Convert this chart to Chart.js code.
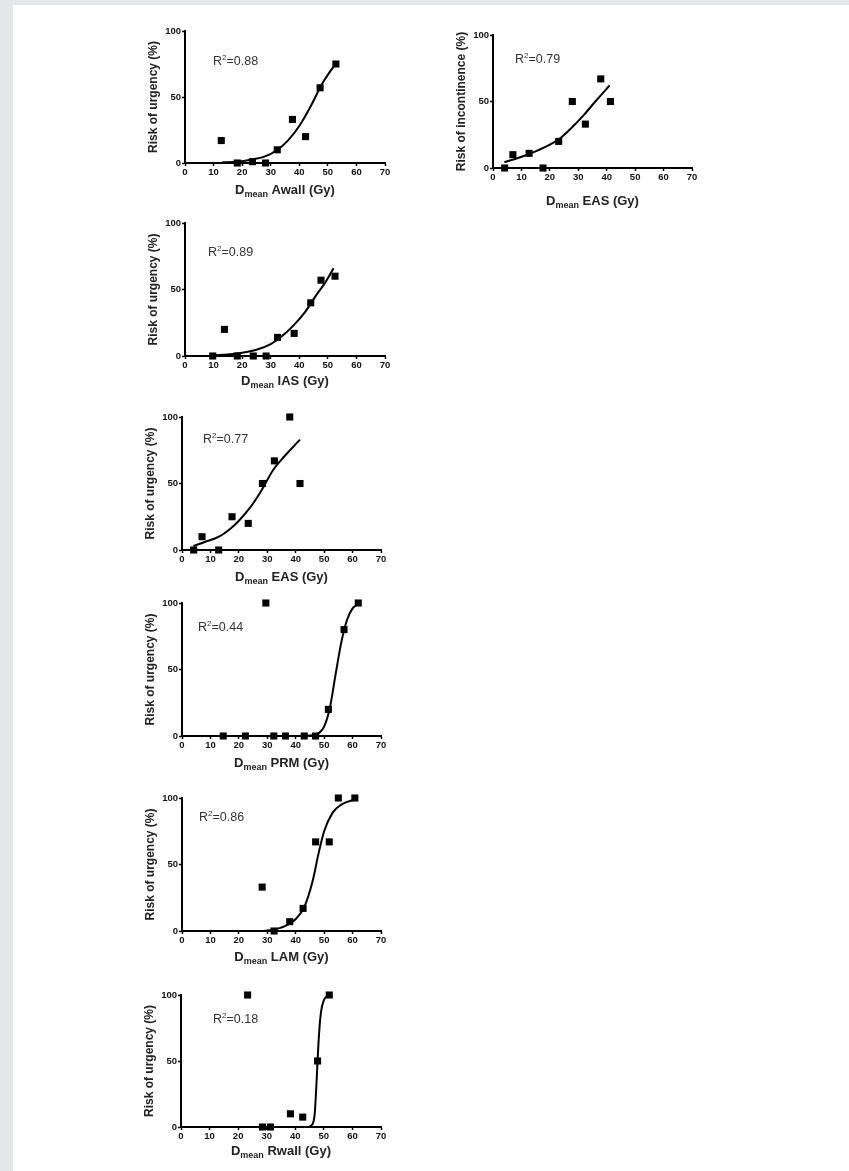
<!DOCTYPE html>
<html>
<head>
  <meta charset="UTF-8">
  <title>Risk vs Dmean</title>
  <script src="https://cdn.jsdelivr.net/npm/chart.js"></script>
  <style>
    body {
      margin: 0;
      background: #e6e7e8;
      width: 849px;
      height: 1171px;
      overflow: hidden;
    }
    #panel {
      position: absolute;
      left: 13px;
      top: 5px;
      width: 836px;
      height: 1166px;
      background: #fff;
    }
    canvas {
      position: absolute;
    }
  </style>
</head>
<body>
  <div id="panel"></div>

  <script>
    // Axis ticks shared by all panels
    const xTicks = [0, 10, 20, 30, 40, 50, 60, 70];
    const yTicks = [0, 50, 100];

    // Awall - urgency
    const awallDose = [12.7, 18.3, 23.6, 28.2, 32.3, 37.6, 42.2, 47.3, 52.8];
    const awallRisk = [17, 0, 1, 0, 10, 33, 20, 57, 75];
    const awallFitDose = [13, 18, 23, 28, 32, 36, 40, 44, 48, 51, 53];
    const awallFitRisk = [0.5, 1, 2.5, 5, 9.5, 17, 28, 43, 60, 70, 76];

    // EAS - incontinence
    const easIncDose = [4.1, 7.0, 12.7, 17.6, 23.1, 27.9, 32.5, 37.9, 41.3];
    const easIncRisk = [0, 10, 11, 0, 20, 50, 33, 67, 50];
    const easIncFitDose = [4, 8, 12, 16, 20, 24, 28, 32, 36, 41];
    const easIncFitRisk = [4.5, 7, 10, 13.5, 17.5, 23, 31, 40, 50, 62];

    // IAS - urgency
    const iasDose = [9.7, 13.8, 18.3, 23.9, 28.4, 32.4, 38.2, 44, 47.6, 52.5];
    const iasRisk = [0, 20, 0, 0, 0, 14, 17, 40, 57, 60];
    const iasFitDose = [10, 15, 20, 25, 30, 34, 38, 42, 46, 49, 52];
    const iasFitRisk = [0.6, 1.2, 2.4, 4.7, 9, 15, 23, 33, 46, 55, 66];

    // EAS - urgency
    const easDose = [4.1, 7.05, 12.9, 17.6, 23.3, 28.3, 32.5, 37.9, 41.5];
    const easRisk = [0, 10, 0, 25, 20, 50, 67, 100, 50];
    const easFitDose = [4, 8, 13, 17, 20, 24, 28, 32, 35, 38, 41.5];
    const easFitRisk = [3, 6, 10, 16, 22, 32, 45, 60, 68, 75, 83];

    // PRM - urgency
    const prmDose = [14.5, 22.3, 29.5, 32.3, 36.4, 43, 47, 51.5, 57, 62];
    const prmRisk = [0, 0, 100, 0, 0, 0, 0, 20, 80, 100];
    const prmFitDose = [43, 46, 48, 50, 52, 54, 56, 58, 60, 62];
    const prmFitRisk = [0, 0.5, 2, 7, 21, 46, 70, 87, 96, 99];

    // LAM - urgency
    const lamDose = [28.2, 32.4, 37.9, 42.6, 47, 51.8, 55, 60.8];
    const lamRisk = [33, 0, 7, 17, 67, 67, 100, 100];
    const lamFitDose = [28, 32, 36, 40, 43, 46, 48, 50, 53, 56, 61];
    const lamFitRisk = [0, 1, 3.5, 9, 18, 38, 58, 75, 89, 95, 99];

    // Rwall - urgency
    const rwallDose = [23.3, 28.5, 31.3, 38.3, 42.6, 47.8, 51.9];
    const rwallRisk = [100, 0, 0, 10, 7.5, 50, 100];
    const rwallFitDose = [44.5, 46, 46.8, 47.3, 47.8, 48.3, 49, 50, 51, 52];
    const rwallFitRisk = [0, 2, 10, 28, 50, 70, 87, 96, 99, 100];

    const structures = ["Awall", "EAS", "IAS", "EAS", "PRM", "LAM", "Rwall"];
    const yTitles = ["Risk of urgency (%)", "Risk of incontinence (%)", "Risk of urgency (%)",
      "Risk of urgency (%)", "Risk of urgency (%)", "Risk of urgency (%)", "Risk of urgency (%)"];
    const rSquared = ["0.88", "0.79", "0.89", "0.77", "0.44", "0.86", "0.18"];

    const series = [
      [awallDose, awallRisk, awallFitDose, awallFitRisk],
      [easIncDose, easIncRisk, easIncFitDose, easIncFitRisk],
      [iasDose, iasRisk, iasFitDose, iasFitRisk],
      [easDose, easRisk, easFitDose, easFitRisk],
      [prmDose, prmRisk, prmFitDose, prmFitRisk],
      [lamDose, lamRisk, lamFitDose, lamFitRisk],
      [rwallDose, rwallRisk, rwallFitDose, rwallFitRisk]
    ];

    // Where each plot area sits on the page: left, right, top, bottom
    // plus x-title drop below the axis and R2 label offset
    const boxes = [
      { l: 185, r: 385, t: 31, b: 163, xt: 27, rx: 28, ry: 29 },
      { l: 493, r: 692, t: 35, b: 168, xt: 33, rx: 22, ry: 23 },
      { l: 185, r: 385, t: 223, b: 356, xt: 25, rx: 23, ry: 28 },
      { l: 182, r: 381, t: 417, b: 550, xt: 27, rx: 21, ry: 21 },
      { l: 182, r: 381, t: 603, b: 736, xt: 27, rx: 16, ry: 23 },
      { l: 182, r: 381, t: 798, b: 931, xt: 26, rx: 17, ry: 18 },
      { l: 181, r: 381, t: 995, b: 1127, xt: 24, rx: 32, ry: 23 }
    ];

    const LEFT = 60, TOP = 14, RIGHT = 14, BOTTOM = 48;
    const FONT = '"Liberation Sans", Arial, sans-serif';

    // Draws the axis titles (with subscript) and the R2 note
    const textPlugin = {
      id: "panelText",
      afterDraw(chart, args, opts) {
        const ctx = chart.ctx;
        const a = chart.chartArea;
        ctx.save();
        ctx.fillStyle = "#222";

        // y title, rotated
        ctx.save();
        ctx.font = "bold 12px " + FONT;
        ctx.textAlign = "center";
        ctx.textBaseline = "middle";
        ctx.translate(a.left - 31, (a.top + a.bottom) / 2);
        ctx.rotate(-Math.PI / 2);
        ctx.fillText(opts.yTitle, 0, 0);
        ctx.restore();

        // x title: D<sub>mean</sub> structure (Gy)
        const big = "bold 13px " + FONT;
        const small = "bold 9px " + FONT;
        const rest = " " + opts.structure + " (Gy)";
        ctx.font = big;
        const wD = ctx.measureText("D").width;
        const wRest = ctx.measureText(rest).width;
        ctx.font = small;
        const wSub = ctx.measureText("mean").width;
        let x = (a.left + a.right) / 2 - (wD + wSub + wRest) / 2;
        const base = a.bottom + opts.xDrop + 4;
        ctx.textAlign = "left";
        ctx.textBaseline = "alphabetic";
        ctx.font = big;
        ctx.fillText("D", x, base);
        x += wD;
        ctx.font = small;
        ctx.fillText("mean", x, base + 3);
        x += wSub;
        ctx.font = big;
        ctx.fillText(rest, x, base);

        // R2 label
        ctx.fillStyle = "#333";
        let rx = a.left + opts.rx;
        const ry = a.top + opts.ry + 4.5;
        ctx.font = "12.5px " + FONT;
        ctx.fillText("R", rx, ry);
        rx += ctx.measureText("R").width;
        ctx.font = "8px " + FONT;
        ctx.fillText("2", rx, ry - 5);
        rx += ctx.measureText("2").width;
        ctx.font = "12.5px " + FONT;
        ctx.fillText("=" + opts.r2, rx, ry);

        ctx.restore();
      }
    };

    function axis(min, max, ticks) {
      return {
        type: "linear",
        min: min,
        max: max,
        afterBuildTicks: s => { s.ticks = ticks.map(v => ({ value: v })); },
        ticks: {
          color: "#111",
          font: { family: FONT, size: 9.5, weight: "bold" },
          padding: 1
        },
        grid: {
          display: true,
          drawOnChartArea: false,
          drawTicks: true,
          tickLength: 3,
          tickColor: "#000",
          tickWidth: 1.5
        },
        border: { display: true, color: "#000", width: 2 }
      };
    }

    // Build each panel
    series.forEach((s, i) => {
      const box = boxes[i];
      const canvas = document.createElement("canvas");
      const w = box.r - box.l + LEFT + RIGHT;
      const h = box.b - box.t + TOP + BOTTOM;
      canvas.width = w;
      canvas.height = h;
      canvas.style.left = (box.l - LEFT) + "px";
      canvas.style.top = (box.t - TOP) + "px";
      canvas.style.width = w + "px";
      canvas.style.height = h + "px";
      document.body.appendChild(canvas);

      const xScale = axis(0, 70, xTicks);
      xScale.afterFit = sc => { sc.height = BOTTOM; };
      const yScale = axis(0, 100, yTicks);
      yScale.afterFit = sc => { sc.width = LEFT; };

      new Chart(canvas.getContext("2d"), {
        type: "scatter",
        data: {
          datasets: [
            {
              data: s[2].map((d, j) => ({ x: d, y: s[3][j] })),
              showLine: true,
              borderColor: "#000",
              borderWidth: 2,
              pointRadius: 0,
              cubicInterpolationMode: "monotone",
              clip: false
            },
            {
              data: s[0].map((d, j) => ({ x: d, y: s[1][j] })),
              pointStyle: "rect",
              pointRadius: 5,
              borderWidth: 0,
              backgroundColor: "#000",
              clip: false
            }
          ]
        },
        options: {
          responsive: false,
          animation: false,
          devicePixelRatio: 1,
          events: [],
          layout: { padding: { left: 0, top: TOP, right: RIGHT, bottom: 0 } },
          scales: { x: xScale, y: yScale },
          plugins: {
            legend: { display: false },
            tooltip: { enabled: false },
            panelText: {
              yTitle: yTitles[i],
              structure: structures[i],
              r2: rSquared[i],
              xDrop: box.xt,
              rx: box.rx,
              ry: box.ry
            }
          }
        },
        plugins: [textPlugin]
      });
    });
  </script>
</body>
</html>
